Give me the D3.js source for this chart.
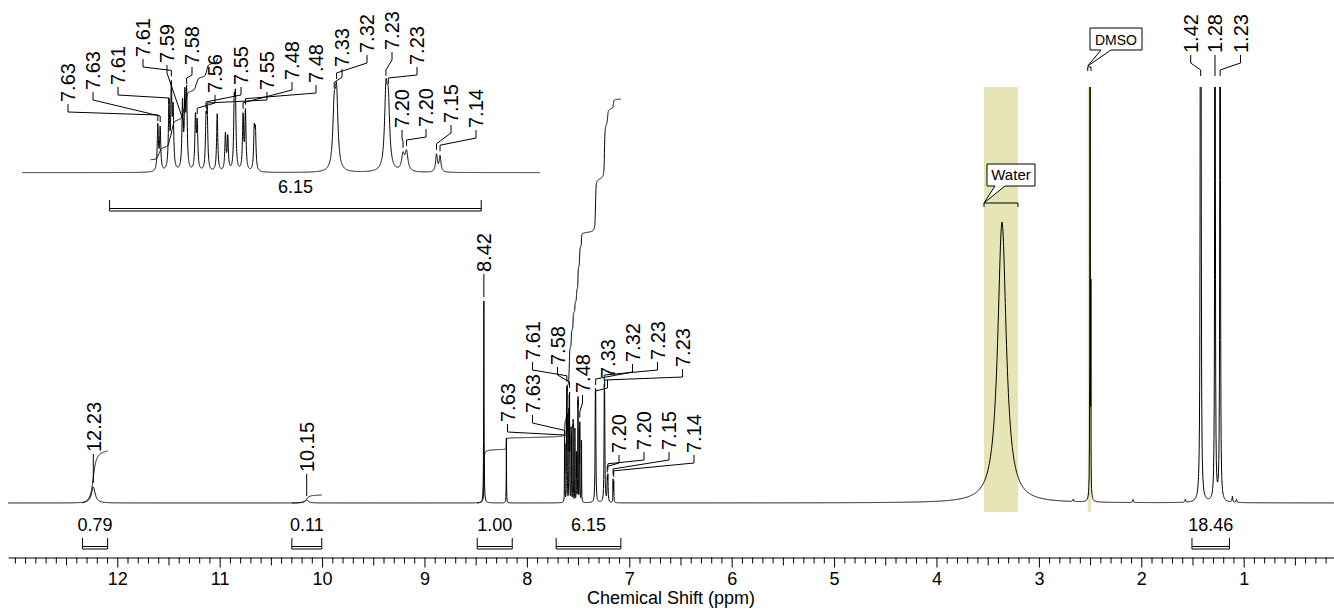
<!DOCTYPE html>
<html>
<head>
<meta charset="utf-8">
<script src="https://cdn.jsdelivr.net/npm/d3@7"></script>
<style>
body { margin: 0; background: #fff; }
svg text { font-family: "Liberation Sans", Arial, sans-serif; fill: #000; }
</style>
</head>
<body>
<svg id="chart" width="1334" height="612"></svg>
<script>
// peak list: position (ppm), height (px of the main trace), half width (ppm)
var peakPpm = [12.234, 10.15, 8.42, 8.20,
	7.632, 7.628, 7.613, 7.609, 7.606, 7.590, 7.586, 7.583, 7.568, 7.565, 7.550,
	7.548, 7.531, 7.517, 7.513, 7.502, 7.500, 7.487, 7.483, 7.468, 7.466,
	7.332, 7.328, 7.244, 7.240, 7.215, 7.209, 7.158, 7.152,
	3.36, 2.664, 2.500, 2.492, 2.08, 1.57, 1.42, 1.28, 1.23, 1.11, 1.07];
var peakHeight = [16, 3, 202, 65,
	57, 53, 83, 99, 72, 83, 87, 95, 66, 58, 58,
	66, 73, 46, 42, 77, 83, 68, 74, 49, 46,
	72, 90, 92, 77, 20, 24, 22, 20,
	281, 2.5, 1500, 190, 3, 3, 2900, 1600, 1600, 6, 3];
var peakHwhm = [0.022, 0.02, 0.00225, 0.0015,
	0.0012, 0.0012, 0.0012, 0.0012, 0.0012, 0.0012, 0.0012, 0.0012, 0.0012, 0.0012, 0.0012,
	0.0012, 0.0012, 0.0012, 0.0012, 0.0012, 0.0012, 0.0012, 0.0012, 0.0012, 0.0012,
	0.0028, 0.0028, 0.0028, 0.0028, 0.0029, 0.0029, 0.0018, 0.0018,
	0.05, 0.004, 0.0012, 0.001, 0.005, 0.004, 0.002, 0.002, 0.002, 0.004, 0.004];

var majorTicks = [12, 11, 10, 9, 8, 7, 6, 5, 4, 3, 2, 1];

// integrals (brackets under the trace)
var integralText = ["0.79", "0.11", "1.00", "6.15", "18.46"];
var integralFrom = [12.34, 10.295, 8.485, 7.714, 1.505];
var integralTo = [12.094, 10.003, 8.143, 7.082, 1.139];

// integral curves drawn on the trace: ppm range and total rise (px)
var curveFrom = [12.34, 10.295, 8.485];
var curveTo = [12.094, 10.003, 7.082];
var curveRise = [52, 8, 404];
var insetCurveFrom = 7.645;

// peak labels
var mainLabelText = ["12.23", "10.15", "8.42", "7.63", "7.63", "7.61", "7.58", "7.48", "7.33", "7.32",
	"7.23", "7.23", "7.20", "7.20", "7.15", "7.14", "1.42", "1.28", "1.23"];
var mainLabelPpm = [12.234, 10.15, 8.42, 7.632, 7.628, 7.609, 7.583, 7.483, 7.332, 7.328,
	7.244, 7.240, 7.215, 7.209, 7.158, 7.152, 1.42, 1.28, 1.23];
var insetLabelText = ["7.63", "7.63", "7.61", "7.61", "7.59", "7.58", "7.56", "7.55", "7.55", "7.48",
	"7.48", "7.33", "7.32", "7.23", "7.23", "7.20", "7.20", "7.15", "7.14"];
var insetLabelPpm = [7.632, 7.628, 7.613, 7.609, 7.588, 7.583, 7.565, 7.550, 7.548, 7.487,
	7.483, 7.332, 7.328, 7.244, 7.240, 7.215, 7.209, 7.158, 7.152];

// solvent regions
var regionText = ["Water", "DMSO"];
var regionFrom = [3.536, 2.523];
var regionTo = [3.204, 2.491];

// label stack layout (px), null = straight above the peak
var mainLabelX = [null, null, null, 507.5, 532.5, 532.5, 557.5, 582.5, 607.5, 632.5,
	657.5, 682.5, 619, 644, 669, 694, 1190.7, null, 1240.5];
var mainLabelBottom = [452, 472, 272, 422, 413, 360, 365, 393, 378, 362,
	360, 367, 453, 450, 450, 453, 53, 53, 53];
var insetLabelX = [68, 93, 118, 143, 167, 192, 215, 241, 267, 292,
	316, 342, 367, 392, 417, 402, 426, 451, 476];
var insetLabelBottom = [102, 90, 85, 57, 63, 65, 93, 85, 90, 80,
	83, 67, 53, 50, 65, 128, 127, 123, 128];

var svg = d3.select("#chart");

var x = d3.scaleLinear().domain([13.067, 0.118]).range([8, 1334]);
var y = d3.scaleLinear().domain([0, 416]).range([503, 87]);
var xi = d3.scaleLinear().domain([7.863, 6.982]).range([22, 540]);
var yi = d3.scaleLinear().domain([0, 127]).range([172.7, 72.7]);
// the inset integral has its own offset and gain
var yii = d3.scaleLinear().domain([0, 100]).range([159.7, 81.7]);

function intensity(p) {
	var s = 0;
	for (var i = 0; i < peakPpm.length; i++) {
		var d = p - peakPpm[i], w = peakHwhm[i];
		s += peakHeight[i] * w * w / (d * d + w * w);
	}
	return s;
}

// coarse grid plus dense points around every line
var offs = [-80, -40, -20, -12, -8, -5, -3, -2, -1.5, -1, -0.6, -0.3, 0, 0.3, 0.6, 1, 1.5, 2, 3, 5, 8, 12, 20, 40, 80];
function samples(lo, hi, step) {
	var pts = d3.range(lo, hi, step);
	peakPpm.forEach(function(c, i) {
		offs.forEach(function(t) {
			var p = c + t * peakHwhm[i];
			if (p > lo && p < hi) pts.push(p);
		});
	});
	pts.sort(d3.descending);
	return pts;
}

function topValue(p, win) {
	var m = intensity(p);
	peakPpm.forEach(function(c) {
		if (Math.abs(c - p) <= win) m = Math.max(m, intensity(c));
	});
	return m;
}

function leader(lx, lb, px, topY) {
	var end = topY - 4, knee = end - 6, p1 = lb + 10;
	if (knee < p1 + 3) { knee = p1 + 3; end = knee + 6; }
	return "M" + lx + "," + (lb + 2) + "V" + p1 + "L" + px + "," + knee + "V" + end;
}

var defs = svg.append("defs");
defs.append("clipPath").attr("id", "mainClip").append("rect")
	.attr("x", 8).attr("y", 87).attr("width", 1326).attr("height", 430);
defs.append("clipPath").attr("id", "insetClip").append("rect")
	.attr("x", 22).attr("y", 58).attr("width", 518).attr("height", 125);

// solvent bands
svg.selectAll(".band").data(regionFrom).enter().append("rect")
	.attr("x", function(d) { return x(d); })
	.attr("width", function(d, i) { return x(regionTo[i]) - x(d); })
	.attr("y", 87).attr("height", 425)
	.attr("fill", "#e5e5b5");

// main trace
var line = d3.line().x(function(p) { return x(p); }).y(function(p) { return y(intensity(p)); });
svg.append("path")
	.attr("d", line(samples(0.118, 13.067, 0.003)))
	.attr("clip-path", "url(#mainClip)")
	.attr("fill", "none").attr("stroke", "#000").attr("stroke-width", 1);

// integral curves
var curves = [];
curveFrom.forEach(function(from, k) {
	var step = 0.0002, acc = 0, prev = intensity(from), pts = [[from, 0]];
	for (var p = from - step; p > curveTo[k]; p -= step) {
		var v = intensity(p);
		acc += (prev + v) / 2 * step;
		prev = v;
		pts.push([p, acc]);
	}
	pts.forEach(function(d) { d[1] = d[1] / acc * curveRise[k]; });
	curves.push(pts.filter(function(d, i) { return i % 4 == 0 || i == pts.length - 1; }));
});
svg.selectAll(".integral").data(curves).enter().append("path")
	.attr("d", d3.line().x(function(d) { return x(d[0]); }).y(function(d) { return y(d[1]); }))
	.attr("fill", "none").attr("stroke", "#000").attr("stroke-width", 1);

// inset
var insetLine = d3.line().x(function(p) { return xi(p); }).y(function(p) { return yi(intensity(p)); });
svg.append("path")
	.attr("d", insetLine(samples(6.982, 7.863, 0.0002)))
	.attr("clip-path", "url(#insetClip)")
	.attr("fill", "none").attr("stroke", "#000").attr("stroke-width", 1);

var aro = curves[2].filter(function(d) { return d[0] <= insetCurveFrom; });
var base0 = aro[0][1];
svg.append("path")
	.attr("d", d3.line().x(function(d) { return xi(d[0]); }).y(function(d) { return yii(d[1] - base0); })(aro))
	.attr("clip-path", "url(#insetClip)")
	.attr("fill", "none").attr("stroke", "#000").attr("stroke-width", 1);

// integral brackets
function bracket(x1, x2, top, text, cx) {
	var g = svg.append("g");
	g.append("path")
		.attr("d", "M" + x1 + "," + top + "V" + (top + 11) + "M" + x2 + "," + top + "V" + (top + 11) +
			"M" + x1 + "," + (top + 8.5) + "H" + x2 + "M" + x1 + "," + (top + 11) + "H" + x2)
		.attr("fill", "none").attr("stroke", "#000").attr("stroke-width", 1);
	g.append("text").attr("x", cx).attr("y", top - 7)
		.attr("text-anchor", "middle").style("font-size", "18px").text(text);
}
integralText.forEach(function(t, i) {
	var x1 = x(integralFrom[i]), x2 = x(integralTo[i]);
	bracket(x1, x2, 538, t, (x1 + x2) / 2);
});
(function() {
	var x1 = xi(integralFrom[3]), x2 = xi(integralTo[3]);
	bracket(x1, x2, 200, integralText[3], (x1 + x2) / 2);
})();

// peak labels with leaders
function peakLabels(texts, ppms, lxs, lbs, xs, ys, win, clipTop) {
	var g = svg.append("g");
	texts.forEach(function(t, i) {
		var px = xs(ppms[i]);
		var lx = lxs[i] == null ? px : lxs[i];
		var lb = lbs[i];
		var topY = ys(topValue(ppms[i], win));
		if (topY < clipTop) topY = clipTop - 7;
		g.append("path").attr("d", leader(lx, lb, px, topY))
			.attr("fill", "none").attr("stroke", "#000").attr("stroke-width", 1);
		g.append("text")
			.attr("transform", "translate(" + lx + "," + lb + ") rotate(-90)")
			.attr("dy", "0.36em")
			.style("font-size", "20px")
			.text(t);
	});
}
peakLabels(mainLabelText, mainLabelPpm, mainLabelX, mainLabelBottom, x, y, 0.006, 87);
peakLabels(insetLabelText, insetLabelPpm, insetLabelX, insetLabelBottom, xi, yi, 0.001, 0);

// solvent callouts
var wx1 = x(regionFrom[0]), wx2 = x(regionTo[0]);
svg.append("path").attr("d", "M" + wx1 + ",207V203H" + wx2 + "V207")
	.attr("fill", "none").attr("stroke", "#000");
svg.append("path")
	.attr("d", "M987,164H1035V186H1005L" + wx1 + ",203L995,186H987Z")
	.attr("fill", "#fff").attr("stroke", "#000");
svg.append("text").attr("x", 1011).attr("y", 180).attr("text-anchor", "middle")
	.style("font-size", "15px").text(regionText[0]);

var dx1 = x(regionFrom[1]), dx2 = x(regionTo[1]);
svg.append("path").attr("d", "M" + dx1 + ",71V67H" + dx2 + "V71")
	.attr("fill", "none").attr("stroke", "#000");
svg.append("path")
	.attr("d", "M1090,28H1142V50H1111L" + dx1 + ",66L1101,50H1090Z")
	.attr("fill", "#fff").attr("stroke", "#000");
svg.append("text").attr("x", 1116).attr("y", 45).attr("text-anchor", "middle")
	.style("font-size", "14px").text(regionText[1]);

// x axis: minor ticks every 0.1, medium at .5, labelled integers
var minorTicks = d3.range(2, 131).filter(function(v) { return v % 5 != 0 || v == 130; }).map(function(v) { return v / 10; });
var halfTicks = d3.range(5, 130, 10).map(function(v) { return v / 10; });

var axisY = 557.5;
var gMinor = svg.append("g").attr("transform", "translate(0," + axisY + ")")
	.call(d3.axisBottom(x).tickValues(minorTicks).tickSize(6).tickFormat(""));
gMinor.select(".domain").remove();
var gHalf = svg.append("g").attr("transform", "translate(0," + axisY + ")")
	.call(d3.axisBottom(x).tickValues(halfTicks).tickSize(8).tickFormat(""));
gHalf.select(".domain").remove();
var gMajor = svg.append("g").attr("transform", "translate(0," + axisY + ")")
	.call(d3.axisBottom(x).tickValues(majorTicks).tickSize(10).tickSizeOuter(0).tickPadding(5).tickFormat(d3.format("d")));
gMajor.selectAll("text").style("font-size", "18px").style("font-family", "\"Liberation Sans\", Arial, sans-serif");
svg.selectAll(".tick line, .domain").attr("stroke", "#000");

svg.append("text").attr("x", (x.range()[0] + x.range()[1]) / 2).attr("y", 604)
	.attr("text-anchor", "middle").style("font-size", "18px")
	.text("Chemical Shift (ppm)");
</script>
</body>
</html>
